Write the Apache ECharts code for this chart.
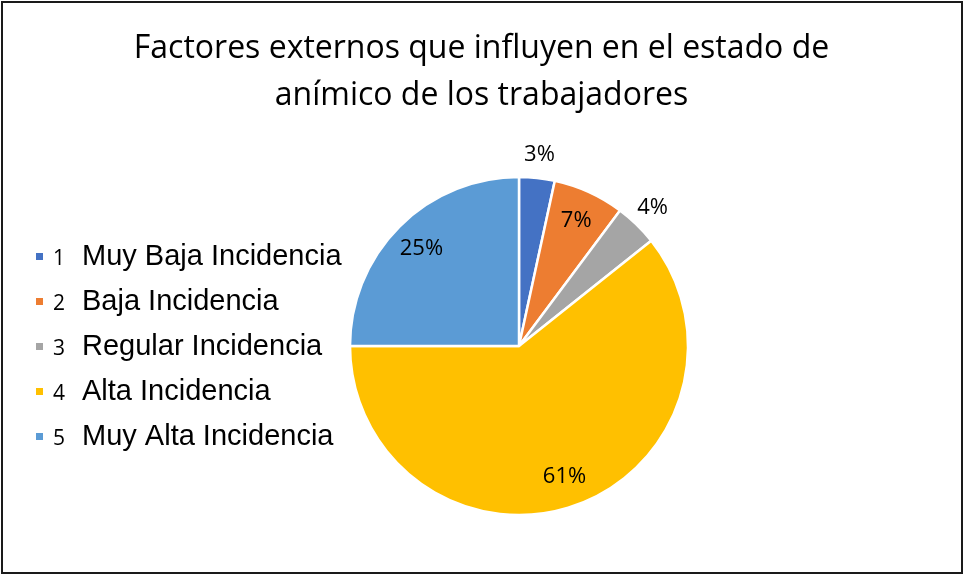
<!DOCTYPE html>
<html>
<head>
<meta charset="utf-8">
<script src="https://cdn.jsdelivr.net/npm/echarts@6/dist/echarts.min.js"></script>
<style>
  html, body { margin: 0; padding: 0; background: #fff; }
  #frame { position: absolute; left: 1px; top: 1px; width: 958px; height: 569px; border: 2px solid #1a1a1a; }
  #chart { position: absolute; left: 0; top: 0; width: 963px; height: 575px; }
</style>
</head>
<body>
<div id="frame"></div>
<div id="chart"></div>
<script>
// datos
var codes = ['1', '2', '3', '4', '5']
var names = ['Muy Baja Incidencia', 'Baja Incidencia', 'Regular Incidencia', 'Alta Incidencia', 'Muy Alta Incidencia']
var values = [3.4, 6.8, 4.1, 60.7, 25.0]
var colors = ['#4472C4', '#ED7D31', '#A5A5A5', '#FFC000', '#5B9BD5']
// etiquetas que van fuera de la torta
var outsideIdx = [0, 2]

var center = [519, 346]
var R = 169

var chart = echarts.init(document.getElementById('chart'))

function pctLabel(p) {
  return Math.round(p.percent) + '%'
}

var mainData = names.map(function (n, i) {
  return { name: n, value: values[i], itemStyle: { color: colors[i] } }
})

function labelData(outside) {
  return names.map(function (n, i) {
    var isOut = outsideIdx.indexOf(i) >= 0
    return { name: n, value: values[i], label: { show: outside ? isOut : !isOut } }
  })
}

var labelSeriesBase = {
  type: 'pie',
  center: center,
  silent: true,
  animation: false,
  tooltip: { show: false },
  emphasis: { disabled: true },
  labelLine: { show: false },
  itemStyle: { color: 'transparent', borderWidth: 0 },
  label: {
    position: 'inside',
    formatter: pctLabel,
    color: '#000',
    fontFamily: 'Open Sans',
    fontSize: 22
  }
}

chart.setOption({
  backgroundColor: 'transparent',
  title: {
    text: 'Factores externos que influyen en el estado de\nanímico de los trabajadores',
    left: 'center',
    top: 20,
    textStyle: {
      fontFamily: 'Open Sans',
      fontWeight: 'normal',
      fontSize: 32,
      lineHeight: 47,
      color: '#000'
    }
  },
  legend: {
    orient: 'vertical',
    left: 29,
    top: 237,
    itemWidth: 9,
    itemHeight: 9,
    itemGap: 16,
    icon: 'rect',
    data: names,
    formatter: function (name) {
      var i = names.indexOf(name)
      return '{n|' + codes[i] + '}{t|' + name + '}'
    },
    textStyle: {
      rich: {
        n: { fontFamily: 'Open Sans', fontSize: 21, color: '#000', width: 29, padding: [6, 0, 0, 4] },
        t: { fontFamily: 'Liberation Sans', fontSize: 29, color: '#000', lineHeight: 30 }
      }
    }
  },
  series: [
    {
      type: 'pie',
      center: center,
      radius: [0, R],
      startAngle: 90,
      clockwise: true,
      animation: false,
      label: { show: false },
      labelLine: { show: false },
      emphasis: { disabled: true },
      itemStyle: { borderColor: '#fff', borderWidth: 2.5 },
      data: mainData
    },
    Object.assign({}, labelSeriesBase, { radius: [100, R + 1], data: labelData(false) }),
    Object.assign({}, labelSeriesBase, { radius: [R + 1, R + 39], data: labelData(true) })
  ]
})
</script>
</body>
</html>
